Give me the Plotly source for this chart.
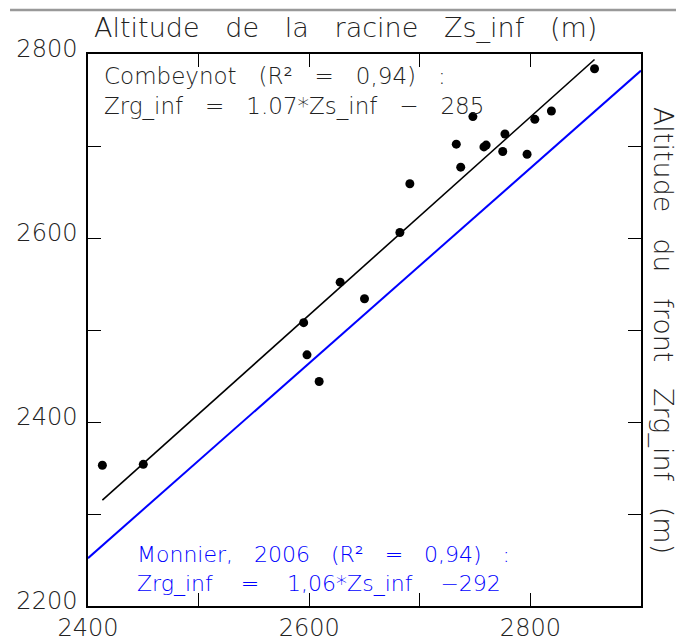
import plotly.graph_objects as go

# Observed data (Zs_inf, Zrg_inf)
zs_inf = [2413, 2450, 2595, 2598, 2609, 2628, 2650, 2682, 2691, 2733, 2737,
          2748, 2758, 2760, 2775, 2777, 2797, 2804, 2819, 2858]
zrg_inf = [2353, 2354, 2508, 2473, 2444, 2552, 2534, 2606, 2659, 2702, 2677,
           2732, 2699, 2701, 2694, 2713, 2691, 2729, 2738, 2784]

# Combeynot fit line (endpoints)
fit_x = [2413, 2858]
fit_y = [2315, 2794]

# Monnier 2006 line: Zrg_inf = 1.06*Zs_inf - 292
monnier_x = [2400, 2900]
monnier_y = [1.06 * v - 292 for v in monnier_x]

x_ticks = [2400, 2500, 2600, 2700, 2800, 2900]
x_labels = ["2400", "", "2600", "", "2800", ""]
y_ticks = [2200, 2300, 2400, 2500, 2600, 2700, 2800]
y_labels = ["2200", "", "2400", "", "2600", "", "2800"]

FONT = "DejaVu Sans"
fig = go.Figure()
fig.add_trace(go.Scatter(x=monnier_x, y=monnier_y, mode="lines",
                         line=dict(color="#0000ff", width=2), showlegend=False))
fig.add_trace(go.Scatter(x=fit_x, y=fit_y, mode="lines",
                         line=dict(color="black", width=1.6), showlegend=False))
fig.add_trace(go.Scatter(x=zs_inf, y=zrg_inf, mode="markers",
                         marker=dict(color="black", size=9), showlegend=False))

axis_common = dict(showgrid=False, zeroline=False, showline=True, linecolor="black",
                   linewidth=1.5, ticks="inside", ticklen=13, tickcolor="black",
                   tickwidth=1.2, mirror="ticks", automargin=False)
fig.update_layout(
    width=684, height=642,
    margin=dict(l=80, r=51, t=46, b=44),
    paper_bgcolor="white", plot_bgcolor="white",
    xaxis=dict(range=[2400, 2900], tickvals=x_ticks, ticktext=x_labels,
               ticklabelstandoff=-1,
               tickfont=dict(family=FONT, size=24, color="#222222", weight=200),
               **axis_common),
    yaxis=dict(range=[2200, 2800], tickvals=y_ticks, ticktext=y_labels,
               ticklabelstandoff=4, ticklabelshift=-5,
               tickfont=dict(family=FONT, size=24, color="#222222", weight=200),
               **axis_common),
    shapes=[dict(type="line", xref="paper", yref="paper", x0=-0.141, x1=1.08,
                 y0=1.0797, y1=1.0797, line=dict(color="#999999", width=2.5))],
    annotations=[
        dict(text="Altitude   de   la   racine   Zs_inf   (m)", xref="paper", yref="paper",
             x=0.4665, y=1.047, xanchor="center", yanchor="middle", showarrow=False,
             font=dict(family=FONT, size=27, color="#222222", weight=200)),
        dict(text="Altitude   du   front   Zrg_inf   (m)", xref="paper", yref="paper",
             x=1.04, y=0.5, xanchor="center", yanchor="middle", textangle=90,
             showarrow=False,
             font=dict(family=FONT, size=27, color="#222222", weight=200)),
        dict(text="Combeynot   (R²   =   0,94)   :<br>Zrg_inf   =   1.07*Zs_inf   −   285",
             xref="paper", yref="paper", x=0.026, y=0.987, xanchor="left",
             yanchor="top", align="left", showarrow=False,
             font=dict(family=FONT, size=23, color="#222222", weight=200)),
        dict(text="Monnier,   2006   (R²   =   0,94)   :<br>Zrg_inf    =    1,06*Zs_inf    −292",
             xref="paper", yref="paper", x=0.085, y=0.015, xanchor="left",
             yanchor="bottom", align="left", showarrow=False,
             font=dict(family=FONT, size=22, color="#0000ff", weight=200)),
    ],
)
fig.write_html("out.html")
